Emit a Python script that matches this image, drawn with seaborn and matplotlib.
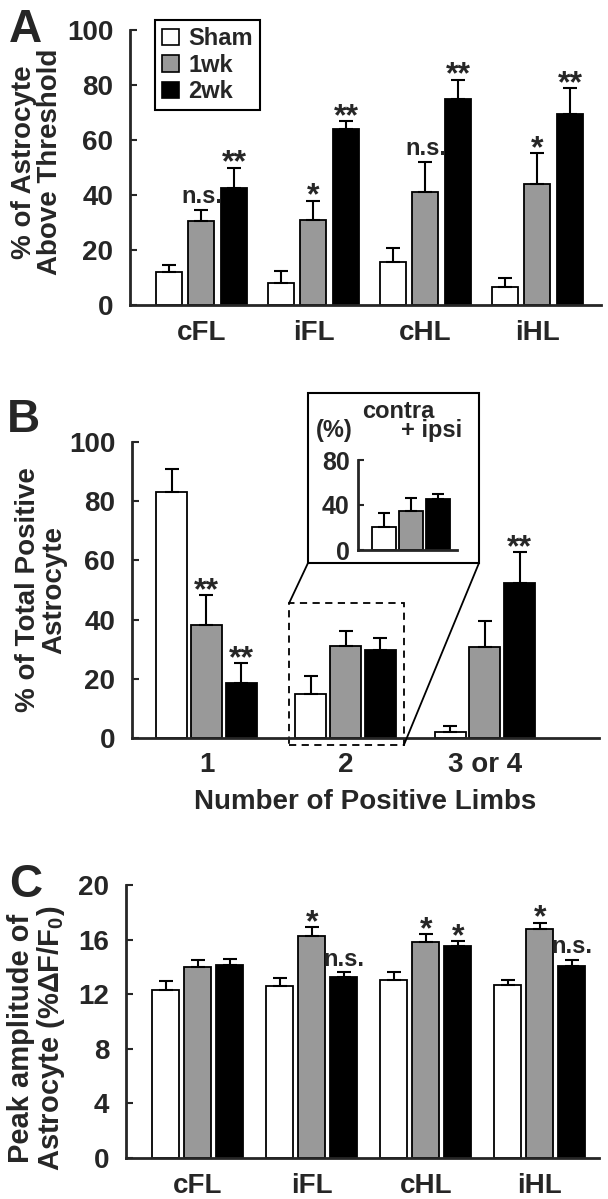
"""
Astrocyte responses after injury: three stacked bar panels (A, B, C)
"""

import numpy as np
import pandas as pd
import matplotlib

matplotlib.use("Agg")
import matplotlib.pyplot as plt
import seaborn as sns
from matplotlib.patches import Patch, Rectangle, ConnectionPatch

# groups and colours
GROUPS = ["Sham", "1wk", "2wk"]
PALETTE = {"Sham": "white", "1wk": "#999999", "2wk": "black"}

# Panel A: % of astrocyte above threshold
limbs = ["cFL", "iFL", "cHL", "iHL"]
a_sham = [12.0, 8.0, 15.5, 6.5]
a_sham_sem = [2.5, 4.5, 5.1, 3.5]
a_1wk = [30.5, 31.0, 41.0, 44.0]
a_1wk_sem = [4.0, 7.0, 11.0, 11.4]
a_2wk = [42.5, 64.0, 75.0, 69.5]
a_2wk_sem = [7.5, 3.0, 7.0, 9.3]
a_sig_1wk = ["n.s.", "*", "n.s.", "*"]
a_sig_2wk = ["**", "**", "**", "**"]

# Panel B: % of total positive astrocyte by number of positive limbs
n_limbs = ["1", "2", "3 or 4"]
b_sham = [83.1, 14.9, 2.0]
b_sham_sem = [7.9, 6.2, 1.9]
b_1wk = [38.2, 31.2, 30.9]
b_1wk_sem = [10.0, 4.8, 8.7]
b_2wk = [18.5, 29.8, 52.2]
b_2wk_sem = [6.8, 3.9, 10.7]
b_sig_1wk = ["**", "", ""]
b_sig_2wk = ["**", "", "**"]

# Panel B inset: contra + ipsi
inset_vals = [20.7, 34.7, 45.0]
inset_sem = [11.9, 11.2, 4.8]

# Panel C: peak amplitude
c_sham = [12.3, 12.6, 13.05, 12.7]
c_sham_sem = [0.7, 0.6, 0.6, 0.35]
c_1wk = [14.0, 16.3, 15.85, 16.8]
c_1wk_sem = [0.5, 0.6, 0.55, 0.45]
c_2wk = [14.15, 13.24, 15.5, 14.07]
c_2wk_sem = [0.4, 0.35, 0.4, 0.43]
c_sig_1wk = ["", "*", "*", "*"]
c_sig_2wk = ["", "n.s.", "*", "n.s."]

W, H = 608, 1199


def fx(px):
    return px / W


def fy(py):
    return 1 - py / H


def box(left, top, right, bottom):
    return [fx(left), fy(bottom), (right - left) / W, (bottom - top) / H]


def long_table(cats, sham, wk1, wk2):
    rows = []
    for g, vals in zip(GROUPS, [sham, wk1, wk2]):
        for c, v in zip(cats, vals):
            rows.append({"cat": c, "group": g, "value": v})
    return pd.DataFrame(rows)


def draw_bars(ax, cats, means, sems, sigs, width, gap):
    df = long_table(cats, *means)
    sns.barplot(
        data=df, x="cat", y="value", hue="group", order=cats, hue_order=GROUPS,
        palette=PALETTE, saturation=1, width=width, gap=gap, errorbar=None,
        edgecolor="black", linewidth=1.3, legend=False, ax=ax,
    )
    # upward-only error bars + significance marks
    for container, m, s, sig in zip(ax.containers, means, sems, sigs):
        xs = [b.get_x() + b.get_width() / 2 for b in container]
        ax.errorbar(xs, m, yerr=[np.zeros(len(s)), s], fmt="none",
                    ecolor="black", elinewidth=1.5, capsize=5, capthick=1.5,
                    zorder=1)
        if sig is None:
            continue
        for x, v, e, t in zip(xs, m, s, sig):
            if not t:
                continue
            if t.startswith("*"):
                ax.annotate(t, (x, v + e), xytext=(0, -3), textcoords="offset points",
                            ha="center", va="baseline", fontsize=23)
            else:
                ax.annotate(t, (x, v + e), xytext=(0, 5), textcoords="offset points",
                            ha="center", va="baseline", fontsize=17)


def style_axis(ax, ymax, step, xlim):
    ax.set_ylim(0, ymax)
    ax.set_xlim(*xlim)
    ax.set_yticks(np.arange(0, ymax + 0.1, step))
    sns.despine(ax=ax)
    ax.spines["left"].set_linewidth(2)
    ax.spines["bottom"].set_linewidth(2)
    ax.tick_params(axis="y", direction="in", length=5, width=1.5, pad=12, labelsize=20)
    ax.tick_params(axis="x", length=0, pad=11, labelsize=20)
    ax.set_xlabel("")
    ax.set_ylabel("")


sns.set_style("ticks")
plt.rcParams["font.family"] = ["Liberation Sans", "DejaVu Sans"]
plt.rcParams["font.weight"] = "bold"
plt.rcParams["axes.labelweight"] = "bold"
plt.rcParams["mathtext.fontset"] = "custom"
plt.rcParams["mathtext.rm"] = "Liberation Sans:bold"
plt.rcParams["mathtext.it"] = "Liberation Sans:bold"
plt.rcParams["mathtext.default"] = "rm"

fig = plt.figure(figsize=(W / 100, H / 100), dpi=100)

# ---- Panel A
ax_a = fig.add_axes(box(130, 30, 601, 305))
draw_bars(ax_a, limbs, [a_sham, a_1wk, a_2wk], [a_sham_sem, a_1wk_sem, a_2wk_sem],
          [None, a_sig_1wk, a_sig_2wk], width=0.87, gap=0.2)
style_axis(ax_a, 100, 20, (-0.638, 3.567))
ax_a.set_ylabel("% of Astrocyte\nAbove Threshold", fontsize=20, linespacing=1.0)
ax_a.yaxis.set_label_coords(-0.142, 0.52)
handles = [Patch(facecolor=PALETTE[g], edgecolor="black", lw=1.2, label=g) for g in GROUPS]
leg = ax_a.legend(handles=handles, loc="upper left",
                  bbox_to_anchor=((155 - 130) / 471, (305 - 20) / 275),
                  frameon=True, fancybox=False, edgecolor="black", framealpha=1,
                  fontsize=17, handlelength=0.7, handleheight=0.7, handletextpad=0.4,
                  labelspacing=0.15, borderpad=0.3, borderaxespad=0)
leg.get_frame().set_linewidth(1.5)

# ---- Panel B
ax_b = fig.add_axes(box(132, 442, 599, 738))
draw_bars(ax_b, n_limbs, [b_sham, b_1wk, b_2wk], [b_sham_sem, b_1wk_sem, b_2wk_sem],
          [None, b_sig_1wk, b_sig_2wk], width=0.75, gap=0.11)
style_axis(ax_b, 100, 20, (-0.535, 2.82))
ax_b.tick_params(axis="x", pad=10)
ax_b.set_ylabel("% of Total Positive\nAstrocyte", fontsize=20, linespacing=1.0)
ax_b.yaxis.set_label_coords(-0.139, 0.5)
ax_b.set_xlabel("Number of Positive Limbs", fontsize=20, labelpad=8)

# dashed box around group "2"
zoom_x0, zoom_x1, zoom_y0, zoom_y1 = 0.593, 1.418, -2.4, 45.5
ax_b.add_patch(Rectangle((zoom_x0, zoom_y0), zoom_x1 - zoom_x0, zoom_y1 - zoom_y0,
                         fill=False, ls=(0, (4, 3)), lw=1.3, ec="black", clip_on=False))

# inset frame and inset axes
frame = box(308, 393, 479, 563)
fig.add_artist(Rectangle((frame[0], frame[1]), frame[2], frame[3],
                         transform=fig.transFigure, fill=False, lw=1.5, ec="black"))
for xa, ya, xb, yb in [(frame[0], frame[1], zoom_x0, zoom_y1),
                       (frame[0] + frame[2], frame[1], zoom_x1, zoom_y0)]:
    fig.add_artist(ConnectionPatch(xyA=(xa, ya), coordsA=fig.transFigure,
                                   xyB=(xb, yb), coordsB=ax_b.transData,
                                   color="black", lw=1.3))

ax_in = fig.add_axes(box(358, 460, 457, 550))
sns.barplot(x=GROUPS, y=inset_vals, hue=GROUPS, palette=PALETTE, saturation=1,
            width=0.89, errorbar=None, edgecolor="black", linewidth=1.3,
            legend=False, ax=ax_in)
in_x = [b.get_x() + b.get_width() / 2 for c in ax_in.containers for b in c]
ax_in.errorbar(in_x, inset_vals, yerr=[np.zeros(3), inset_sem], fmt="none",
               ecolor="black", elinewidth=1.5, capsize=4, capthick=1.5, zorder=1)
ax_in.set_ylim(0, 80)
ax_in.set_xlim(-0.96, 2.7)
ax_in.set_yticks([0, 40, 80])
ax_in.set_xticks([])
sns.despine(ax=ax_in)
ax_in.spines["left"].set_linewidth(2)
ax_in.spines["bottom"].set_linewidth(2)
ax_in.tick_params(axis="y", direction="in", length=4, width=1.5, pad=6, labelsize=18)
fig.text(fx(334), fy(430), "(%)", ha="center", va="center", fontsize=17)
fig.text(fx(398), fy(411), "contra", ha="center", va="center", fontsize=17)
fig.text(fx(432), fy(431), "+ ipsi", ha="center", va="center", fontsize=17)

# ---- Panel C
ax_c = fig.add_axes(box(126, 885, 599, 1158))
draw_bars(ax_c, limbs, [c_sham, c_1wk, c_2wk], [c_sham_sem, c_1wk_sem, c_2wk_sem],
          [None, c_sig_1wk, c_sig_2wk], width=0.84, gap=0.15)
style_axis(ax_c, 20, 4, (-0.63, 3.52))
ax_c.set_ylabel("Peak amplitude of\nAstrocyte (%\u0394F/F$_0$)", fontsize=21, linespacing=1.0)
ax_c.yaxis.set_label_coords(-0.125, 0.44)

# panel letters
for letter, x, y in [("A", 9, 42), ("B", 7, 432), ("C", 9, 897)]:
    fig.text(fx(x), fy(y), letter, ha="left", va="baseline", fontsize=33, fontweight="bold")

fig.savefig("out.png", dpi=100)
